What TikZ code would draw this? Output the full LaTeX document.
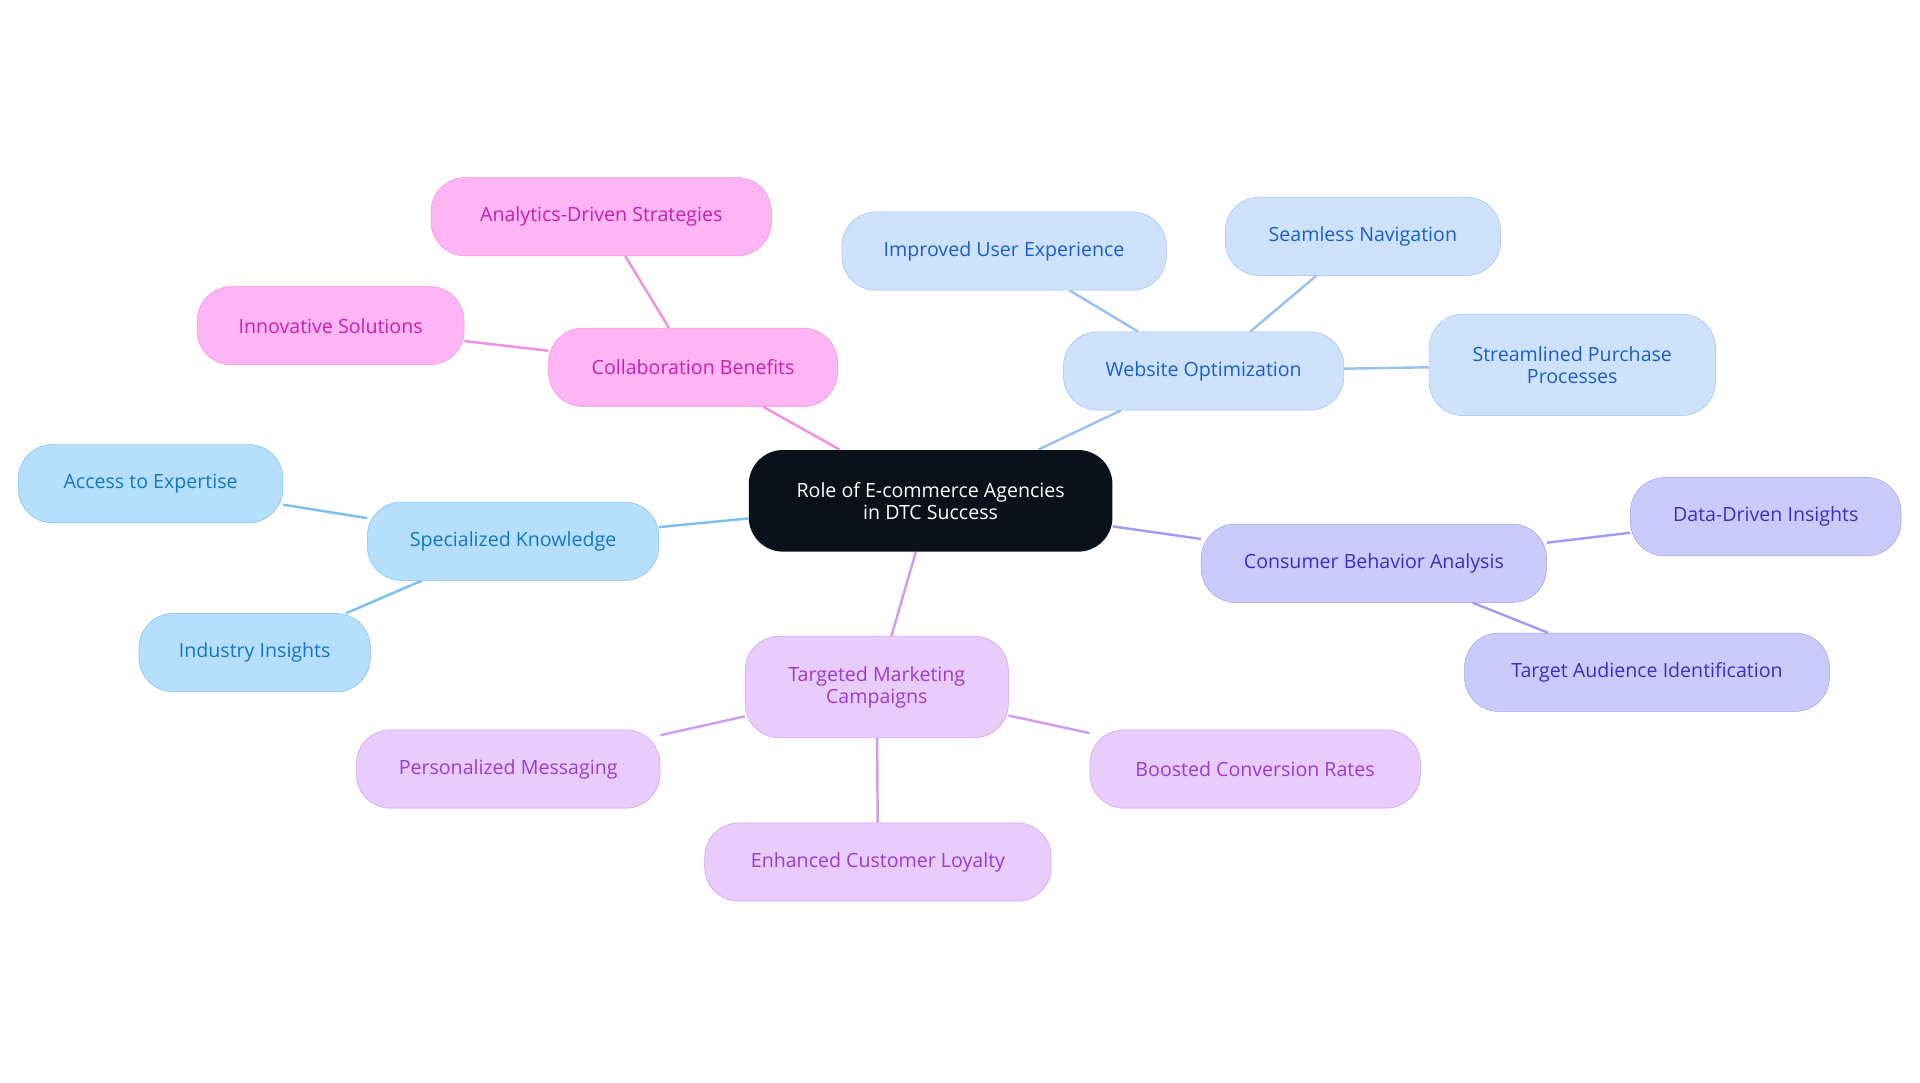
\documentclass[tikz,border=0pt]{standalone}
\usepackage{fontspec}
\setmainfont{Open Sans}
\usetikzlibrary{backgrounds}
\definecolor{cblk}{HTML}{0B111A}
\definecolor{wF}{HTML}{CFE2FB}\definecolor{wD}{HTML}{9BC1F0}\definecolor{wT}{HTML}{1A5FC9}
\definecolor{cF}{HTML}{CBCBFB}\definecolor{cD}{HTML}{A09CF0}\definecolor{cT}{HTML}{3A2FC0}
\definecolor{tF}{HTML}{E8CCFB}\definecolor{tD}{HTML}{CF9CF0}\definecolor{tT}{HTML}{9B3BD0}
\definecolor{sF}{HTML}{B5DFFC}\definecolor{sD}{HTML}{7BC0EE}\definecolor{sT}{HTML}{1377C4}
\definecolor{kF}{HTML}{FDB5F3}\definecolor{kD}{HTML}{F28FE0}\definecolor{kT}{HTML}{C81FB0}
\tikzset{
 box/.style={rounded corners=28pt,minimum height=64pt,align=center,inner sep=2pt,font=\fontsize{16}{18}\selectfont},
 wb/.style={box,fill=wF,draw=wD,text=wT},
 cb/.style={box,fill=cF,draw=cD,text=cT},
 tb/.style={box,fill=tF,draw=tD,text=tT},
 sb/.style={box,fill=sF,draw=sD,text=sT},
 kb/.style={box,fill=kF,draw=kD,text=kT},
 ln/.style={line width=2pt}
}
\begin{document}
\begin{tikzpicture}[x=1pt,y=-1pt]
\useasboundingbox (0,0) rectangle (1568,884);
\node[box,fill=cblk,text=white,minimum width=297pt,minimum height=83pt] (c) at (760,409) {Role of E-commerce Agencies\\in DTC Success};
\node[wb,minimum width=229pt] (w) at (983,303) {Website Optimization};
\node[wb,minimum width=265pt] (w1) at (820,205) {Improved User Experience};
\node[wb,minimum width=225pt] (w2) at (1113,193) {Seamless Navigation};
\node[wb,minimum width=234pt,minimum height=83pt] (w3) at (1284,298) {Streamlined Purchase\\Processes};
\node[cb,minimum width=282pt] (b) at (1122,460) {Consumer Behavior Analysis};
\node[cb,minimum width=221pt] (b1) at (1442,422) {Data-Driven Insights};
\node[cb,minimum width=298pt] (b2) at (1345,549) {Target Audience Identification};
\node[tb,minimum width=215pt,minimum height=83pt] (t) at (716,561) {Targeted Marketing\\Campaigns};
\node[tb,minimum width=248pt] (t1) at (415,628) {Personalized Messaging};
\node[tb,minimum width=283pt] (t2) at (717,704) {Enhanced Customer Loyalty};
\node[tb,minimum width=270pt] (t3) at (1025,628) {Boosted Conversion Rates};
\node[sb,minimum width=238pt] (s) at (419,442) {Specialized Knowledge};
\node[sb,minimum width=216pt] (s1) at (123,395) {Access to Expertise};
\node[sb,minimum width=189pt] (s2) at (208,533) {Industry Insights};
\node[kb,minimum width=236pt] (k) at (566,300) {Collaboration Benefits};
\node[kb,minimum width=278pt] (k1) at (491,177) {Analytics-Driven Strategies};
\node[kb,minimum width=218pt] (k2) at (270,266) {Innovative Solutions};
\begin{scope}[on background layer]
\draw[ln,wD] (c)--(w) (w)--(w1) (w)--(w2) (w)--(w3);
\draw[ln,cD] (c)--(b) (b)--(b1) (b)--(b2);
\draw[ln,tD] (c)--(t) (t)--(t1) (t)--(t2) (t)--(t3);
\draw[ln,sD] (c)--(s) (s)--(s1) (s)--(s2);
\draw[ln,kD] (c)--(k) (k)--(k1) (k)--(k2);
\end{scope}
\end{tikzpicture}
\end{document}
